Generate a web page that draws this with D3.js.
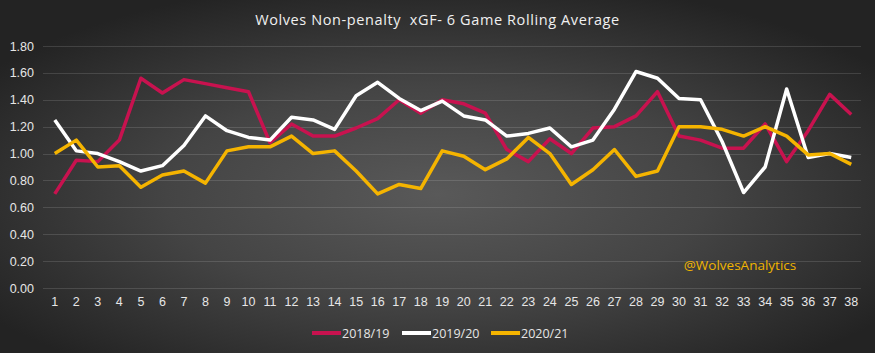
<!DOCTYPE html>
<html>
<head>
<meta charset="utf-8">
<script src="https://cdn.jsdelivr.net/npm/d3@7"></script>
<style>
  html, body { margin: 0; padding: 0; background: #222; }
  svg { display: block; font-family: "Open Sans", "Noto Sans", sans-serif; }
</style>
</head>
<body>
<svg width="875" height="353"></svg>
<script>
// games 1..38
var games = d3.range(1, 39);
var seasons = ["2018/19", "2019/20", "2020/21"];
var colors = ["#c8124f", "#ffffff", "#f5b400"];
var s1819 = [0.70, 0.95, 0.94, 1.10, 1.56, 1.45, 1.55, 1.52, 1.49, 1.46,
             1.08, 1.22, 1.13, 1.13, 1.19, 1.26, 1.40, 1.30, 1.40, 1.37,
             1.30, 1.03, 0.94, 1.11, 1.00, 1.19, 1.20, 1.28, 1.46, 1.13,
             1.10, 1.04, 1.04, 1.22, 0.94, 1.17, 1.44, 1.29];
var s1920 = [1.25, 1.02, 1.00, 0.94, 0.87, 0.91, 1.06, 1.28, 1.17, 1.12,
             1.10, 1.27, 1.25, 1.18, 1.43, 1.53, 1.41, 1.32, 1.39, 1.28,
             1.25, 1.13, 1.15, 1.19, 1.05, 1.10, 1.33, 1.61, 1.56, 1.41,
             1.40, 1.09, 0.71, 0.90, 1.48, 0.97, 1.00, 0.97];
var s2021 = [1.00, 1.10, 0.90, 0.91, 0.75, 0.84, 0.87, 0.78, 1.02, 1.05,
             1.05, 1.13, 1.00, 1.02, 0.87, 0.70, 0.77, 0.74, 1.02, 0.98,
             0.88, 0.96, 1.12, 1.00, 0.77, 0.88, 1.03, 0.83, 0.87, 1.20,
             1.20, 1.18, 1.13, 1.20, 1.13, 0.99, 1.00, 0.92];
var yTicks = [0, 0.2, 0.4, 0.6, 0.8, 1.0, 1.2, 1.4, 1.6, 1.8];
var series = [s1819, s1920, s2021];

var svg = d3.select("svg");
var W = 875, H = 353;

// background: dark radial gradient
var defs = svg.append("defs");
var grad = defs.append("radialGradient").attr("id", "bg")
    .attr("cx", "50%").attr("cy", "55%").attr("r", "62%");
grad.append("stop").attr("offset", "0%").attr("stop-color", "#595959");
grad.append("stop").attr("offset", "50%").attr("stop-color", "#444444");
grad.append("stop").attr("offset", "100%").attr("stop-color", "#232323");
svg.append("rect").attr("width", W).attr("height", H).attr("fill", "url(#bg)");

var x = d3.scaleBand().domain(games).range([44, 862]);
var y = d3.scaleLinear().domain([0, 1.8]).range([288, 46]);

// gridlines
svg.append("g").selectAll("line").data(yTicks).enter().append("line")
    .attr("x1", 43).attr("x2", 861)
    .attr("y1", function (d) { return Math.round(y(d)) + 0.5; })
    .attr("y2", function (d) { return Math.round(y(d)) + 0.5; })
    .attr("stroke", "rgba(255,255,255,0.13)").attr("stroke-width", 1);

// y axis labels
var yAxis = d3.axisLeft(y).tickValues(yTicks).tickFormat(d3.format(".2f")).tickSize(0).tickPadding(0);
var gy = svg.append("g").attr("transform", "translate(34,0)").call(yAxis);
gy.select(".domain").remove();
gy.selectAll("text").attr("fill", "#e6e6e6").style("font-size", "12.5px");

// x axis labels
var xAxis = d3.axisBottom(x).tickSize(0).tickPadding(0);
var gx = svg.append("g").attr("transform", "translate(0,297)").call(xAxis);
gx.select(".domain").remove();
gx.selectAll("text").attr("fill", "#e6e6e6").style("font-size", "12.5px");

// lines
var line = d3.line()
    .x(function (d, i) { return x(games[i]) + x.bandwidth() / 2; })
    .y(function (d) { return y(d); });

svg.append("g").selectAll("path").data(series).enter().append("path")
    .attr("d", line)
    .attr("fill", "none")
    .attr("stroke", function (d, i) { return colors[i]; })
    .attr("stroke-width", 3.5)
    .attr("stroke-linejoin", "round");

// title
svg.append("text")
    .attr("x", 437.5).attr("y", 25)
    .attr("text-anchor", "middle")
    .attr("fill", "#f0f0f0")
    .style("font-size", "14.5px")
    .style("letter-spacing", "0.6px")
    .style("white-space", "pre")
    .text("Wolves Non-penalty  xGF- 6 Game Rolling Average");

// watermark
svg.append("text")
    .attr("x", 740).attr("y", 270)
    .attr("text-anchor", "middle")
    .attr("fill", "#f0b400")
    .style("font-size", "13.5px")
    .text("@WolvesAnalytics");

// legend
var legX = [312, 402, 491];
var leg = svg.append("g").selectAll("g").data(seasons).enter().append("g")
    .attr("transform", function (d, i) { return "translate(" + legX[i] + ",333)"; });
leg.append("line")
    .attr("x1", 0).attr("x2", 29).attr("y1", 0).attr("y2", 0)
    .attr("stroke", function (d, i) { return colors[i]; })
    .attr("stroke-width", 4);
leg.append("text")
    .attr("x", 30).attr("y", 4.5)
    .attr("fill", "#e6e6e6")
    .style("font-size", "12.5px")
    .text(function (d) { return d; });
</script>
</body>
</html>
